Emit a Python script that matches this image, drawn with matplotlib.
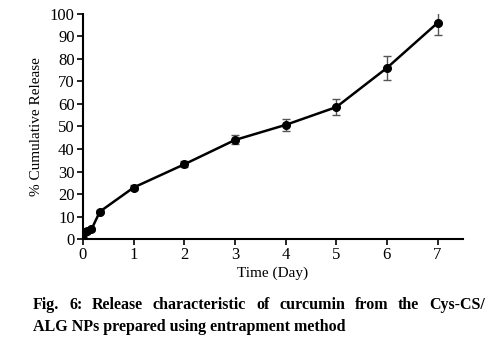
import numpy as np
import matplotlib
matplotlib.use("Agg")
import matplotlib.pyplot as plt

# Release data (mean % cumulative release with error)
time_day = [0, 0.042, 0.083, 0.167, 0.333, 1, 2, 3, 4, 5, 6, 7]
release = [0, 3.3, 3.5, 4.3, 12.2, 22.9, 33.2, 44.0, 50.7, 58.6, 76.0, 96.0]
release_err = [0.3, 0.5, 0.5, 0.6, 0.8, 1.0, 1.3, 2.0, 2.5, 3.6, 5.5, 5.4]

plt.rcParams["font.family"] = ["Liberation Serif", "DejaVu Serif"]

fig = plt.figure(figsize=(4.94, 3.47), dpi=100)
ax = fig.add_axes([0.168, 0.311, 0.769, 0.649])

ax.errorbar(time_day, release, yerr=release_err, fmt="none", ecolor="#555555",
            elinewidth=1, capsize=3, capthick=1, zorder=2)
ax.plot(time_day, release, color="black", lw=1.8, marker="o", ms=5.5, zorder=3)

ax.set_xlim(0, 7.5)
ax.set_ylim(0, 100)
ax.set_xticks(range(0, 8))
ax.set_yticks(range(0, 101, 10))
ax.spines["top"].set_visible(False)
ax.spines["right"].set_visible(False)
ax.spines["left"].set_linewidth(1.5)
ax.spines["bottom"].set_linewidth(1.5)
ax.tick_params(labelsize=12, length=4, width=1.2, pad=2)
ax.set_xlabel("Time (Day)", fontsize=11, labelpad=2)
ax.set_ylabel("% Cumulative Release", fontsize=11, labelpad=5)

# caption: first line justified between the margins, second line left-aligned
cap1 = "Fig. 6: Release characteristic of curcumin from the Cys-CS/"
cap2 = "ALG NPs prepared using entrapment method"
x0, x1 = 33 / 494, 485 / 494
y1, y2 = 1 - 305 / 347, 1 - 327 / 347
cap_kw = dict(fontsize=11.5, fontweight="bold", va="center", ha="left")

renderer = fig.canvas.get_renderer()
words = [fig.text(0, y1, w, **cap_kw) for w in cap1.split()]
widths = [t.get_window_extent(renderer).width / fig.bbox.width for t in words]
gap = (x1 - x0 - sum(widths)) / (len(words) - 1)
pos = x0
for t, w in zip(words, widths):
    t.set_x(pos)
    pos += w + gap
fig.text(x0, y2, cap2, **cap_kw)

fig.savefig("out.png", dpi=100)
